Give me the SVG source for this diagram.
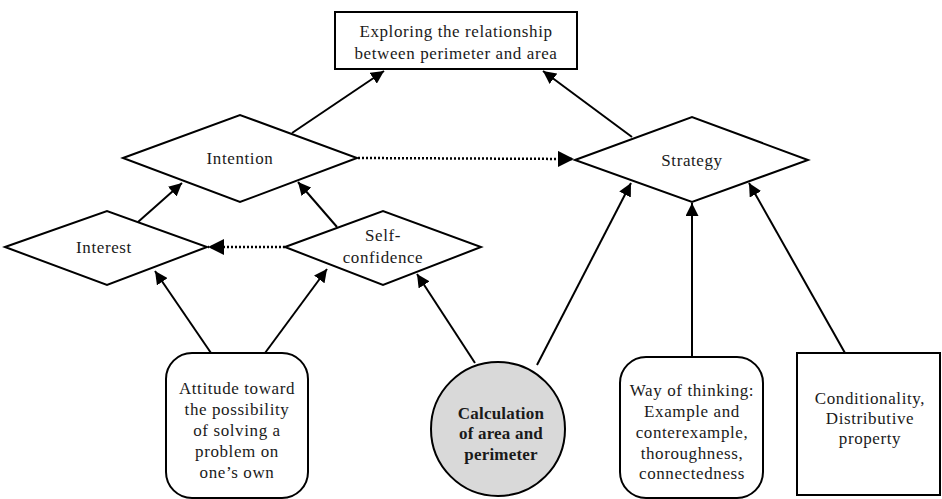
<svg xmlns="http://www.w3.org/2000/svg" width="942" height="499" viewBox="0 0 942 499">
<style>
.s{fill:#fff;stroke:#000;stroke-width:2}
.t{font-family:"Liberation Serif","Times New Roman",serif;font-size:17px;letter-spacing:0.6px;fill:#1a1a1a;text-anchor:middle}
.b{font-weight:bold;letter-spacing:0.2px}
.c{stroke:#000;stroke-width:2;fill:none;marker-end:url(#ah)}
.d{stroke:#000;stroke-width:2.5;fill:none;stroke-dasharray:2 2;marker-end:url(#ah)}
</style>
<defs>
<marker id="ah" viewBox="0 0 10 10" refX="10" refY="5" markerWidth="6.5" markerHeight="6.5" orient="auto" markerUnits="strokeWidth">
<path d="M0,0 L10,5 L0,10 z" fill="#000"/>
</marker>
</defs>
<rect width="942" height="499" fill="#fff"/>
<g id="connectors">
<line class="c" x1="292" y1="133" x2="384" y2="71"/>
<line class="c" x1="632" y1="137" x2="543" y2="71"/>
<line class="d" x1="358" y1="158" x2="574" y2="159"/>
<line class="c" x1="138" y1="222" x2="182" y2="183"/>
<line class="c" x1="337" y1="227" x2="298" y2="182"/>
<line class="d" x1="285" y1="247" x2="208" y2="247"/>
<line class="c" x1="211" y1="353" x2="155" y2="271"/>
<line class="c" x1="265" y1="353" x2="327" y2="269"/>
<line class="c" x1="475" y1="363" x2="417" y2="274"/>
<line class="c" x1="537" y1="365" x2="631" y2="183"/>
<line class="c" x1="692" y1="357" x2="692" y2="203"/>
<line class="c" x1="845" y1="353" x2="749" y2="183"/>
</g>
<g id="goal">
<rect class="s" x="335" y="12" width="242" height="57"/>
<text class="t" x="456" y="37">Exploring the relationship</text>
<text class="t" x="456" y="59">between perimeter and area</text>
</g>
<g id="intention">
<polygon class="s" points="123,158 240,115 357,158 240,202"/>
<text class="t" x="240" y="164">Intention</text>
</g>
<g id="strategy">
<polygon class="s" points="575,160 692,117 808,160 692,202"/>
<text class="t" x="692" y="166">Strategy</text>
</g>
<g id="interest">
<polygon class="s" points="5,247 107,211 207,247 107,285"/>
<text class="t" x="104" y="253">Interest</text>
</g>
<g id="selfconfidence">
<polygon class="s" points="285,247 383,211 481,247 383,285"/>
<text class="t" x="383" y="241">Self-</text>
<text class="t" x="383" y="263">confidence</text>
</g>
<g id="attitude">
<rect class="s" x="166" y="353" width="142" height="145" rx="26"/>
<text class="t" x="237" y="394">Attitude toward</text>
<text class="t" x="237" y="415">the possibility</text>
<text class="t" x="237" y="436">of solving a</text>
<text class="t" x="237" y="457">problem on</text>
<text class="t" x="237" y="478">one’s own</text>
</g>
<g id="calculation">
<circle cx="498" cy="429" r="67" fill="#d9d9d9" stroke="#000" stroke-width="2"/>
<text class="t b" x="501" y="419">Calculation</text>
<text class="t b" x="501" y="439">of area and</text>
<text class="t b" x="501" y="460">perimeter</text>
</g>
<g id="wayofthinking">
<rect class="s" x="620" y="357" width="143" height="141" rx="26"/>
<text class="t" x="692" y="396">Way of thinking:</text>
<text class="t" x="692" y="417">Example and</text>
<text class="t" x="692" y="438">conterexample,</text>
<text class="t" x="692" y="459">thoroughness,</text>
<text class="t" x="692" y="479">connectedness</text>
</g>
<g id="conditionality">
<rect class="s" x="797" y="353" width="143" height="142"/>
<text class="t" x="870" y="404">Conditionality,</text>
<text class="t" x="870" y="424">Distributive</text>
<text class="t" x="870" y="444">property</text>
</g>
</svg>
